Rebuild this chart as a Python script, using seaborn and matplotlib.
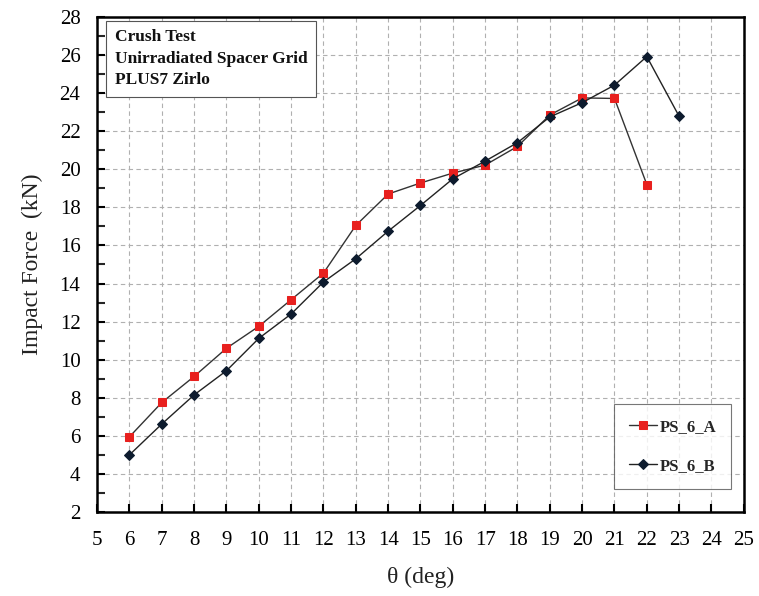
import matplotlib
matplotlib.use("Agg")
import matplotlib.pyplot as plt
import seaborn as sns
import pandas as pd
from matplotlib.ticker import MultipleLocator

theta_a = [6, 7, 8, 9, 10, 11, 12, 13, 14, 15, 16, 17, 18, 19, 20, 21, 22]
force_a = [5.95, 7.75, 9.12, 10.6, 11.75, 13.15, 14.55, 17.05, 18.7, 19.28, 19.8, 20.22, 21.2, 22.85, 23.75, 23.72, 19.2]
theta_b = [6, 7, 8, 9, 10, 11, 12, 13, 14, 15, 16, 17, 18, 19, 20, 21, 22, 23]
force_b = [5.0, 6.62, 8.15, 9.42, 11.12, 12.4, 14.08, 15.3, 16.75, 18.1, 19.5, 20.43, 21.4, 22.75, 23.5, 24.42, 25.92, 22.78]
label_a = "PS_6_A"
label_b = "PS_6_B"
note = "Crush Test\nUnirradiated Spacer Grid\nPLUS7 Zirlo"

sns.set_theme(style="white")
plt.rcParams['font.family'] = ['Liberation Serif', 'DejaVu Serif']

fig = plt.figure(figsize=(7.59, 5.96), dpi=100)
ax = fig.add_axes([0.128, 0.141, 0.852, 0.8305])

df_a = pd.DataFrame({"theta": theta_a, "force": force_a})
df_b = pd.DataFrame({"theta": theta_b, "force": force_b})

sns.lineplot(data=df_a, x="theta", y="force", ax=ax, color="#333333", lw=1.0,
             marker="s", markersize=6, markerfacecolor="#e8201e", markeredgecolor="#e8201e",
             label=label_a, zorder=3)
sns.lineplot(data=df_b, x="theta", y="force", ax=ax, color="#222222", lw=1.0,
             marker="D", markersize=5.5, markerfacecolor="#0d1b2e", markeredgecolor="#0d1b2e",
             label=label_b, zorder=4)

ax.set_xlim(5, 25)
ax.set_ylim(2, 28)
ax.xaxis.set_major_locator(MultipleLocator(1))
ax.yaxis.set_major_locator(MultipleLocator(2))
ax.yaxis.set_minor_locator(MultipleLocator(1))
ax.grid(True, which="major", ls=(0, (4, 3)), color="#b0b0b0", lw=0.8)
for s in ax.spines.values():
    s.set_color("black")
    s.set_linewidth(1.8)

ax.tick_params(axis="x", which="major", direction="in", length=6, width=1.5, pad=14,
               labelsize=15, bottom=True, colors="black")
ax.tick_params(axis="y", which="major", direction="in", length=6, width=1.5, pad=12,
               labelsize=15, left=True, colors="black")
ax.tick_params(axis="y", which="minor", direction="in", length=6, width=1.5, left=True)

ax.set_xlabel("θ (deg)", fontsize=17, labelpad=12, color="#222222")
ax.set_ylabel("Impact Force  (kN)", fontsize=17, labelpad=12, color="#222222")

leg = ax.legend(loc="lower right", bbox_to_anchor=(0.993, 0.03), frameon=True, fancybox=False,
                edgecolor="#555555", prop={"weight": "bold", "size": 12},
                borderpad=0.9, labelspacing=1.35, handlelength=1.7, handletextpad=0.15)
leg.get_frame().set_linewidth(0.8)

ax.text(0.027, 0.975, note, transform=ax.transAxes, ha="left", va="top",
        fontsize=12.5, fontweight="bold", linespacing=1.45, color="#111111",
        bbox=dict(boxstyle="square,pad=0.5", facecolor="white", edgecolor="#555555", lw=0.8),
        zorder=5)

fig.savefig("out.png", dpi=100)
